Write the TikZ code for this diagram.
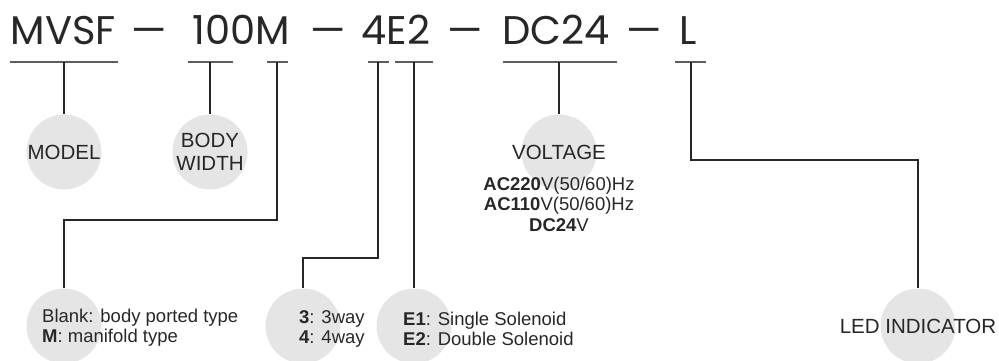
\documentclass[tikz,border=0pt]{standalone}
\usepackage{fontspec}
\setmainfont{Liberation Sans}
\newfontfamily\titlefont{Poppins}
\usetikzlibrary{positioning}
\definecolor{DotGray}{RGB}{229,229,229}
\definecolor{InkGray}{RGB}{40,38,38}
\tikzset{
	dot/.style={circle,fill=DotGray,minimum size=75pt,inner sep=0pt},
	wire/.style={draw=InkGray,line width=1.1pt},
	uline/.style={draw=InkGray!75,line width=1.6pt},
	part/.style={font=\titlefont\fontsize{40}{40}\selectfont,anchor=base,inner sep=0pt,text=InkGray},
	tag/.style={font=\fontsize{20.5}{22.5}\selectfont,align=center,inner sep=0pt,text=InkGray},
	note/.style={font=\fontsize{18.5}{20.5}\selectfont,align=left,anchor=north west,inner sep=0pt,text=InkGray},
}

\begin{document}
\begin{tikzpicture}[x=1pt,y=-1pt]
	\useasboundingbox (0,0) rectangle (999,361);
	% order code
	\foreach \t/\cx [count=\i] in {MVSF/63.5,—/149.5,100M/241.5,—/328.5,4E2/396,—/465,DC24/556,—/644,L/688}
	\node[part] (p\i) at (\cx,45) {\t};
	% underlines and their taps
	\foreach \a/\b/\c/\n in {10/118/64/model,188/233/210/body,267/288/277/port,368/389/378/way,395/433/414/sol,503/617/559/volt,675/706/691/led}{
		\draw[uline] (\a,62) -- (\b,62);
		\coordinate (t-\n) at (\c,62);
	}
	% grey dots
	\foreach \n/\x/\y in {model/64/152,body/210/152,volt/559/152,port/64/326,way/303/326,sol/414/326,led/918/326}
	\node[dot] (d-\n) at (\x,\y) {};
	% connectors
	\foreach \n in {model,body,volt,sol}
	\draw[wire] (t-\n) -- (d-\n.north);
	\draw[wire] (t-port) -- ++(0,158) -| (d-port.north);
	\draw[wire] (t-way) -- ++(0,196) -| (d-way.north);
	\draw[wire] (t-led) -- ++(0,98) -| (d-led.north);
	% labels
	\node[tag] (l-model) at (d-model) {MODEL};
	\node[tag] (l-body) at (d-body) {BODY\\WIDTH};
	\node[tag] (l-volt) at (d-volt) {VOLTAGE};
	\node[tag] (l-led) at (d-led) {LED INDICATOR};
	\node[note,align=center,anchor=north] (n-volt) at (559,176.5) {\textbf{AC220}V(50/60)Hz\\\textbf{AC110}V(50/60)Hz\\\textbf{DC24}V};
	\node[note] (n-port) at (42,308.5) {Blank: body ported type\\\textbf{M}: manifold type};
	\node[note] (n-way) at (299,310) {\textbf{3}: 3way\\\textbf{4}: 4way};
	\node[note] (n-sol) at (403,311.5) {\textbf{E1}: Single Solenoid\\\textbf{E2}: Double Solenoid};
\end{tikzpicture}
\end{document}
